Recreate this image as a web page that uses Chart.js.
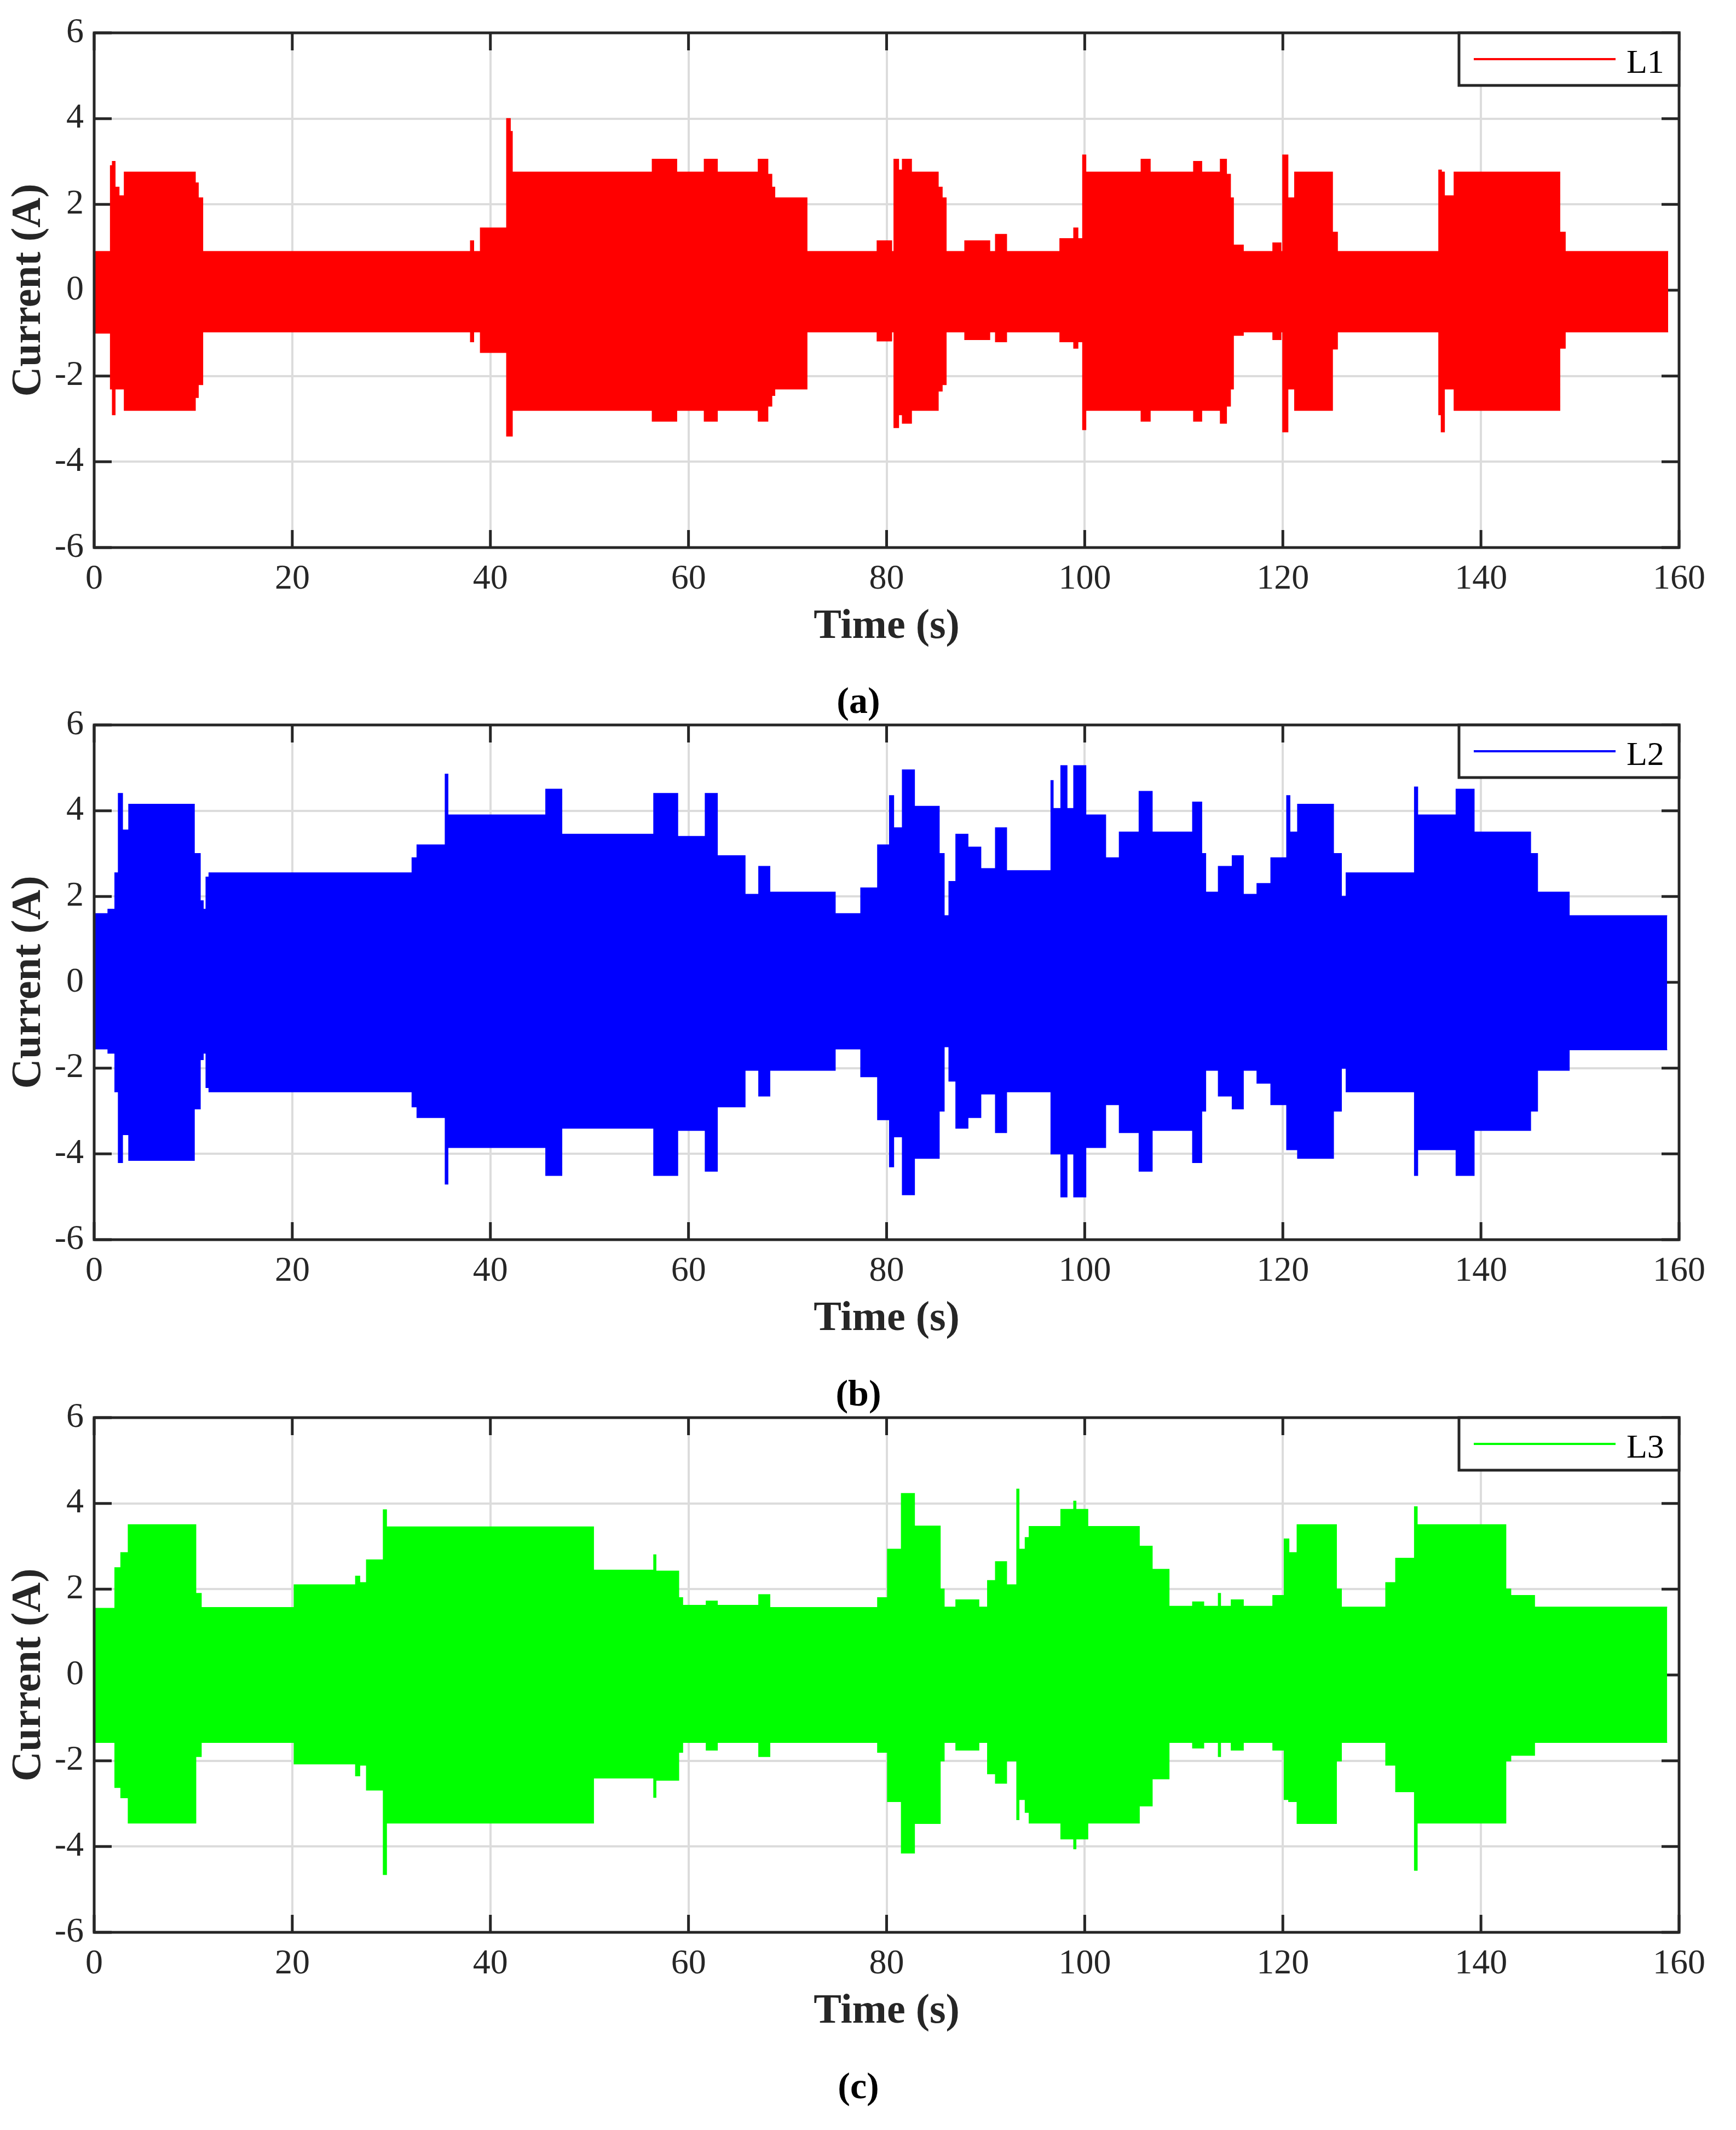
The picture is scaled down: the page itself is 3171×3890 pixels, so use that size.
<!DOCTYPE html>
<html>
<head>
<meta charset="utf-8">
<script src="https://cdn.jsdelivr.net/npm/chart.js@4.4.0/dist/chart.umd.min.js"></script>
<style>
  body { margin: 0; background: #fff; }
  #page { position: relative; width: 3171px; height: 3890px; }
  #page canvas { position: absolute; left: 0; }
  .cap { position: absolute; left: 1368px; width: 400px; text-align: center;
         font: bold 68px 'Liberation Serif', serif; color: #000; line-height: 80px; }
</style>
</head>
<body>
<div id="page">
  <canvas id="chartA" width="3171" height="1210" style="top:0"></canvas>
  <canvas id="chartB" width="3171" height="1210" style="top:1264px"></canvas>
  <canvas id="chartC" width="3171" height="1210" style="top:2529px"></canvas>
  <div class="cap" style="top:1239px">(a)</div>
  <div class="cap" style="top:2504px">(b)</div>
  <div class="cap" style="top:3769px">(c)</div>
</div>
<script>
// ---- axis ticks ----
const xTicks = [0, 20, 40, 60, 80, 100, 120, 140, 160];
const yTicks = [-6, -4, -2, 0, 2, 4, 6];

// ---- L1 envelope (each value holds until the next time) ----
const timeA = [0, 1.65, 1.85, 2.1, 2.5, 3.05, 10.2, 10.5, 10.95, 38.0, 38.3, 39.0, 41.65, 42.0, 42.2,
  56.35, 58.8, 61.6, 62.9, 67.05, 68.0, 68.4, 68.7, 71.95, 79.05, 80.5, 80.75, 81.2, 81.6, 82.5,
  85.2, 85.6, 86.0, 87.9, 90.4, 91.0, 92.1, 97.5, 98.9, 99.3, 99.8, 100.1, 105.7, 106.6, 111.0,
  111.8, 113.7, 114.3, 114.7, 115.0, 116.0, 119.0, 119.8, 120.0, 120.5, 121.2, 125.0, 125.5,
  135.75, 136.0, 136.3, 137.3, 147.95, 148.5, 158.9];
const upperA = [0.9, 2.9, 3.0, 2.4, 2.2, 2.75, 2.5, 2.15, 0.9, 1.15, 0.9, 1.45, 4.0, 3.7, 2.75,
  3.05, 2.75, 3.05, 2.75, 3.05, 2.7, 2.4, 2.15, 0.9, 1.15, 0.9, 3.05, 2.8, 3.05, 2.75,
  2.4, 2.15, 0.9, 1.15, 0.9, 1.3, 0.9, 1.2, 1.45, 1.2, 3.15, 2.75, 3.05, 2.75, 3.0,
  2.75, 3.05, 2.7, 2.15, 1.05, 0.9, 1.1, 0.9, 3.15, 2.15, 2.75, 1.35, 0.9,
  2.8, 2.75, 2.2, 2.75, 1.35, 0.9, 0.9];
const lowerA = [-1.0, -2.3, -2.9, -2.3, -2.3, -2.8, -2.5, -2.2, -0.97, -1.2, -0.97, -1.45, -3.4, -3.4, -2.8,
  -3.05, -2.8, -3.05, -2.8, -3.05, -2.7, -2.45, -2.3, -0.97, -1.18, -0.97, -3.2, -2.9, -3.1, -2.8,
  -2.35, -2.2, -0.97, -1.15, -0.97, -1.2, -0.97, -1.2, -1.35, -1.2, -3.25, -2.8, -3.05, -2.8, -3.05,
  -2.8, -3.1, -2.7, -2.3, -1.05, -0.97, -1.15, -0.97, -3.3, -2.3, -2.8, -1.37, -0.97,
  -2.9, -3.3, -2.3, -2.8, -1.35, -0.97, -0.97];

// ---- L2 envelope ----
const timeB = [0, 1.4, 2.1, 2.45, 2.85, 3.5, 10.1, 10.7, 11.0, 11.3, 11.6, 32.1, 32.6, 35.45, 35.7,
  45.6, 47.2, 56.5, 58.9, 61.7, 62.9, 65.7, 67.1, 68.2, 74.8, 77.4, 79.1, 80.3, 80.7, 81.6,
  82.8, 85.3, 85.8, 86.3, 87.0, 88.2, 89.5, 91.0, 92.1, 96.6, 96.8, 97.6, 98.2, 98.9, 100.1,
  102.1, 103.5, 105.5, 106.8, 110.9, 111.8, 112.2, 113.5, 114.9, 116.0, 117.4, 118.8, 120.4, 120.7,
  121.5, 125.1, 125.9, 126.4, 133.3, 133.6, 137.5, 139.3, 145.0, 145.7, 148.9, 158.8];
const upperB = [1.6, 1.7, 2.55, 4.4, 3.55, 4.15, 3.0, 1.9, 1.7, 2.45, 2.55, 2.9, 3.2, 4.85, 3.9,
  4.5, 3.45, 4.4, 3.4, 4.4, 2.95, 2.05, 2.7, 2.1, 1.6, 2.2, 3.2, 4.35, 3.6, 4.95,
  4.1, 3.0, 1.55, 2.35, 3.45, 3.15, 2.65, 3.6, 2.6, 4.7, 4.05, 5.05, 4.05, 5.05, 3.9,
  2.9, 3.5, 4.45, 3.5, 4.2, 3.0, 2.1, 2.7, 2.95, 2.05, 2.3, 2.9, 4.35, 3.5,
  4.15, 3.0, 2.0, 2.55, 4.55, 3.9, 4.5, 3.5, 3.0, 2.1, 1.55, 1.55];
const lowerB = [-1.55, -1.65, -2.55, -4.2, -3.55, -4.15, -2.95, -1.8, -1.65, -2.45, -2.55, -2.9, -3.15, -4.7, -3.85,
  -4.5, -3.4, -4.5, -3.45, -4.4, -2.9, -2.05, -2.65, -2.05, -1.55, -2.2, -3.2, -4.3, -3.6, -4.95,
  -4.1, -3.0, -1.5, -2.3, -3.4, -3.15, -2.6, -3.5, -2.55, -4.0, -4.0, -5.0, -4.0, -5.0, -3.85,
  -2.85, -3.5, -4.4, -3.45, -4.2, -3.0, -2.05, -2.65, -2.95, -2.05, -2.35, -2.85, -3.9, -3.9,
  -4.1, -3.0, -2.0, -2.55, -4.5, -3.9, -4.5, -3.45, -3.0, -2.05, -1.57, -1.57];

// ---- L3 envelope ----
const timeC = [0, 2.1, 2.7, 3.45, 10.25, 10.8, 20.2, 26.4, 26.8, 27.5, 29.2, 29.5, 50.4, 56.5, 56.7,
  59.0, 59.4, 61.8, 62.9, 67.1, 68.2, 79.1, 80.1, 81.5, 82.8, 85.4, 85.8, 87.0, 89.3, 90.2,
  91.0, 92.1, 93.15, 93.35, 94.0, 94.4, 97.6, 98.9, 99.1, 100.3, 105.5, 106.8, 108.5, 110.9, 112.0,
  113.5, 113.7, 114.8, 116.0, 119.0, 120.15, 120.6, 121.45, 125.4, 125.9, 130.4, 131.4, 133.3, 133.55,
  142.5, 143.0, 145.4, 158.8];
const upperC = [1.55, 2.5, 2.85, 3.5, 1.9, 1.57, 2.1, 2.3, 2.15, 2.68, 3.85, 3.45, 2.44, 2.8, 2.42,
  1.8, 1.62, 1.72, 1.62, 1.87, 1.57, 1.8, 2.93, 4.23, 3.47, 2.0, 1.58, 1.75, 1.58, 2.2,
  2.64, 2.1, 4.33, 2.93, 3.2, 3.46, 3.86, 4.05, 3.86, 3.46, 3.0, 2.46, 1.6, 1.7, 1.6,
  1.9, 1.6, 1.75, 1.6, 1.85, 3.17, 2.85, 3.5, 2.0, 1.58, 2.15, 2.72, 3.92, 3.5,
  2.0, 1.85, 1.58, 1.58];
const lowerC = [-1.57, -2.62, -2.86, -3.45, -1.9, -1.57, -2.07, -2.35, -2.1, -2.68, -4.65, -3.45, -2.4, -2.85, -2.45,
  -1.8, -1.57, -1.75, -1.57, -1.9, -1.57, -1.8, -2.95, -4.15, -3.46, -2.0, -1.57, -1.75, -1.57, -2.3,
  -2.52, -2.0, -3.37, -2.9, -3.2, -3.45, -3.82, -4.05, -3.82, -3.45, -3.05, -2.42, -1.57, -1.7, -1.57,
  -1.9, -1.57, -1.75, -1.57, -1.75, -2.9, -2.95, -3.46, -2.0, -1.57, -2.1, -2.72, -4.55, -3.45,
  -2.0, -1.87, -1.57, -1.57];

const font = "'Liberation Serif', 'Times New Roman', serif";
const dark = '#262626';

// box, inward ticks and legend, matlab style
const frame = {
  id: 'frame',
  beforeDatasetsDraw(chart) {
    const { ctx, chartArea: a, scales: { x, y } } = chart;
    ctx.save();
    ctx.strokeStyle = dark;
    ctx.lineWidth = 5;
    ctx.beginPath();
    x.ticks.forEach(t => {
      const p = x.getPixelForValue(t.value);
      ctx.moveTo(p, a.bottom); ctx.lineTo(p, a.bottom - 32);
      ctx.moveTo(p, a.top); ctx.lineTo(p, a.top + 32);
    });
    y.ticks.forEach(t => {
      const p = y.getPixelForValue(t.value);
      ctx.moveTo(a.left, p); ctx.lineTo(a.left + 32, p);
      ctx.moveTo(a.right, p); ctx.lineTo(a.right - 32, p);
    });
    ctx.stroke();
    ctx.restore();
  },
  afterDatasetsDraw(chart) {
    const { ctx, chartArea: a } = chart;
    const ds = chart.data.datasets[0];
    ctx.save();
    ctx.lineWidth = 5;
    ctx.strokeStyle = dark;
    ctx.strokeRect(a.left, a.top, a.right - a.left, a.bottom - a.top);
    // legend
    const w = 402, h = 96, lx = a.right - w, ly = a.top;
    ctx.fillStyle = '#fff';
    ctx.fillRect(lx, ly, w, h);
    ctx.strokeRect(lx, ly, w, h);
    ctx.strokeStyle = ds.borderColor;
    ctx.lineWidth = 4;
    ctx.beginPath();
    ctx.moveTo(lx + 27, ly + 48);
    ctx.lineTo(lx + 286, ly + 48);
    ctx.stroke();
    ctx.fillStyle = '#000';
    ctx.font = '62px ' + font;
    ctx.textBaseline = 'alphabetic';
    ctx.fillText(ds.label, lx + 306, ly + 73);
    ctx.restore();
  }
};

function makeChart(id, label, color, time, upper, lower) {
  const pts = vals => time.map((t, i) => ({ x: t, y: vals[i] }));
  return new Chart(document.getElementById(id), {
    type: 'line',
    data: {
      datasets: [{
        label: label,
        data: pts(upper),
        borderColor: color,
        backgroundColor: color,
        borderWidth: 2,
        pointRadius: 0,
        stepped: 'before',
        fill: '+1'
      }, {
        label: label + ' min',
        data: pts(lower),
        borderColor: color,
        backgroundColor: color,
        borderWidth: 2,
        pointRadius: 0,
        stepped: 'before',
        fill: false
      }]
    },
    options: {
      responsive: false,
      animation: false,
      layout: { padding: { top: 60, right: 104, left: 0, bottom: 0 } },
      plugins: { legend: { display: false }, tooltip: { enabled: false } },
      scales: {
        x: {
          type: 'linear', min: 0, max: 160,
          afterBuildTicks: s => { s.ticks = xTicks.map(v => ({ value: v })); },
          afterFit: s => { s.height = 210; },
          grid: { color: '#dcdcdc', lineWidth: 4, drawTicks: false },
          border: { display: false },
          ticks: { color: dark, font: { family: font, size: 64, weight: 'normal' }, padding: 20, maxRotation: 0 },
          title: {
            display: true, text: 'Time (s)', color: dark,
            font: { family: font, size: 76, weight: 'bold' },
            padding: { top: 0, bottom: 19 }
          }
        },
        y: {
          min: -6, max: 6,
          afterBuildTicks: s => { s.ticks = yTicks.map(v => ({ value: v })); },
          afterFit: s => { s.width = 172; },
          grid: { color: '#dcdcdc', lineWidth: 4, drawTicks: false },
          border: { display: false },
          ticks: { color: dark, font: { family: font, size: 64, weight: 'normal' }, padding: 19 },
          title: {
            display: true, text: 'Current (A)', color: dark,
            font: { family: font, size: 76, weight: 'bold' },
            padding: { top: 8, bottom: 0 }
          }
        }
      }
    },
    plugins: [frame]
  });
}

function drawAll() {
  makeChart('chartA', 'L1', '#ff0000', timeA, upperA, lowerA);
  makeChart('chartB', 'L2', '#0000ff', timeB, upperB, lowerB);
  makeChart('chartC', 'L3', '#00ff00', timeC, upperC, lowerC);
}

// make sure the serif faces are ready before the canvases draw text
Promise.all([
  document.fonts.load("64px 'Liberation Serif'"),
  document.fonts.load("bold 76px 'Liberation Serif'")
]).then(drawAll, drawAll);
</script>
</body>
</html>
